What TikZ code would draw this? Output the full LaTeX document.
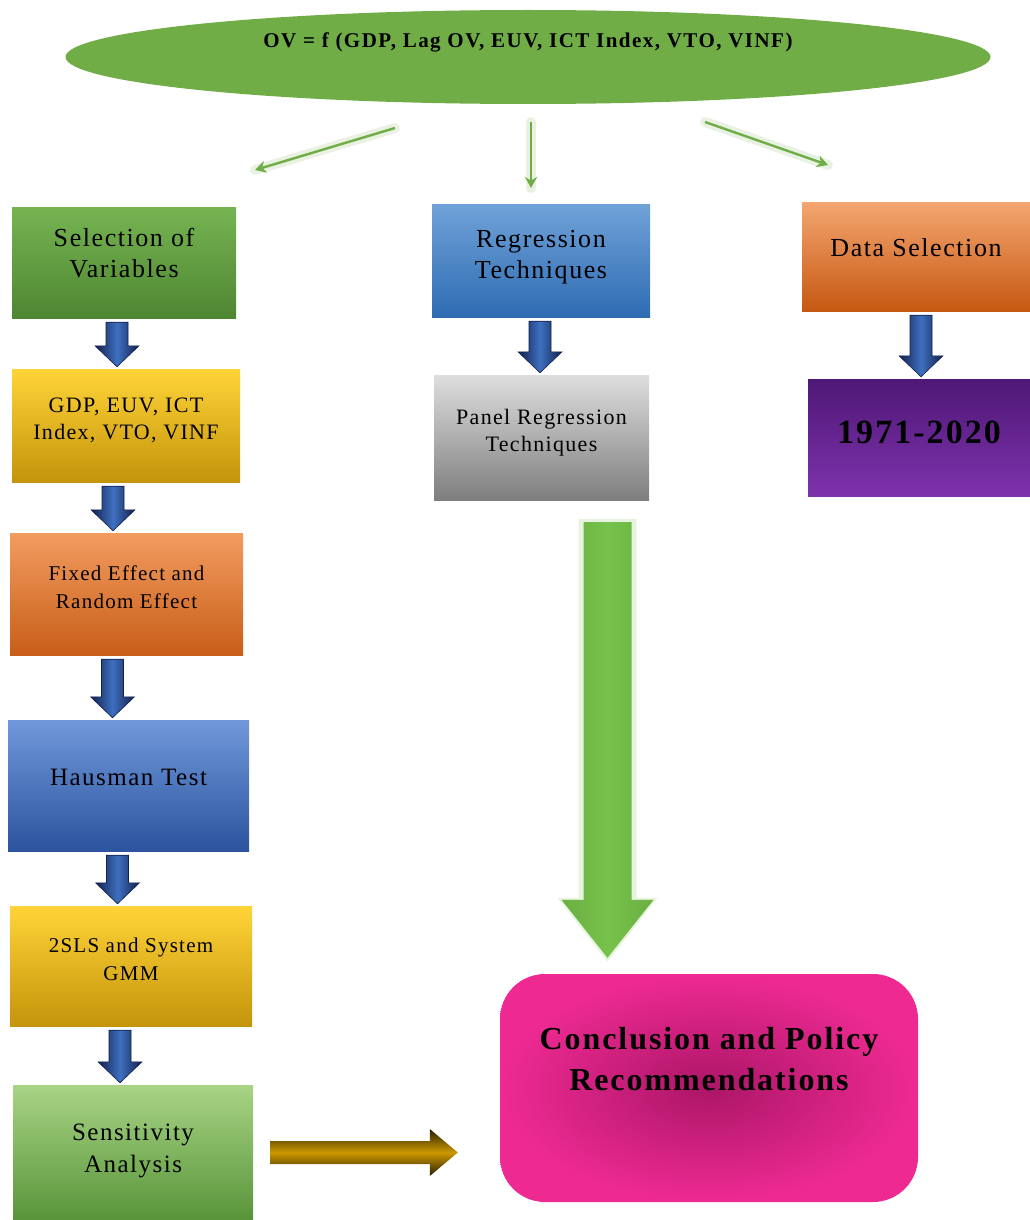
\documentclass[tikz,border=0pt]{standalone}
\usepackage{fontspec}
\setmainfont{Liberation Serif}
\newfontfamily\boxfont[LetterSpace=6]{Liberation Serif}
\newfontfamily\titlefont[LetterSpace=7]{Liberation Serif}
\usetikzlibrary{shapes.geometric,calc,arrows.meta}

\definecolor{ovgreen}{RGB}{112,173,71}
\definecolor{selT}{RGB}{118,180,82}
\definecolor{selB}{RGB}{78,134,50}
\definecolor{regT}{RGB}{112,162,216}
\definecolor{regB}{RGB}{46,108,178}
\definecolor{datT}{RGB}{244,166,112}
\definecolor{datB}{RGB}{198,88,18}
\definecolor{ylwT}{RGB}{255,212,56}
\definecolor{ylwB}{RGB}{196,148,10}
\definecolor{panT}{RGB}{222,222,222}
\definecolor{panB}{RGB}{126,126,126}
\definecolor{yrsT}{RGB}{78,24,118}
\definecolor{yrsB}{RGB}{126,50,172}
\definecolor{fixT}{RGB}{242,156,96}
\definecolor{fixB}{RGB}{200,94,24}
\definecolor{hauT}{RGB}{112,152,218}
\definecolor{hauB}{RGB}{44,84,158}
\definecolor{senT}{RGB}{168,212,132}
\definecolor{senB}{RGB}{88,148,58}
\definecolor{conOut}{RGB}{238,42,146}
\definecolor{conIn}{RGB}{172,22,104}
\definecolor{navyblk}{RGB}{18,32,76}
\definecolor{blueblk}{RGB}{62,112,192}
\definecolor{bigarrow}{RGB}{118,194,74}
\definecolor{goldmid}{RGB}{204,152,0}
\definecolor{golddark}{RGB}{40,30,0}

\tikzset{
  shadedbox/.style 2 args={rectangle, inner sep=0pt, align=center,
    top color=#1, bottom color=#2, draw=none, font=\boxfont},
  blkarrow/.style={left color=navyblk, right color=navyblk,
    middle color=blueblk, draw=navyblk, line width=0.6pt},
  glowline/.style={line width=10pt, ovgreen!45, opacity=0.35, line cap=round},
  thinarrow/.style={line width=2.4pt, ovgreen, -{Stealth[length=11pt,width=12pt]}},
}

% text set a little above the middle of its box
\newcommand{\lift}[2][0pt]{\raisebox{#1}[0pt][0pt]{\begin{tabular}{@{}c@{}}#2\end{tabular}}}

% blue block arrow from node #2 down to node #3, shifted by #1
\newcommand{\downblk}[3][0]{%
  \coordinate (ba) at ($(#2.south)+(#1,4)$);
  \coordinate (bb) at ($(#3.north -| ba)+(0,-2)$);
  \path[blkarrow] ($(ba)+(-11,0)$) -- ($(ba)+(11,0)$) -- ($(bb)+(11,-21)$)
    -- ($(bb)+(22,-21)$) -- (bb) -- ($(bb)+(-22,-21)$) -- ($(bb)+(-11,-21)$) -- cycle;
}

\begin{document}
\begin{tikzpicture}[x=1pt, y=-1pt]
  \useasboundingbox (0,0) rectangle (1030,1220);

  % model equation
  \node[ellipse, fill=ovgreen, minimum width=925pt, minimum height=94pt, inner sep=0pt,
        font=\titlefont\bfseries\fontsize{21}{25}\selectfont] (ov) at (528,57)
        {\raisebox{9pt}[0pt][0pt]{OV = f (GDP, Lag OV, EUV, ICT Index, VTO, VINF)}};

  % left column
  \node[shadedbox={selT}{selB}, minimum width=224pt, minimum height=111pt,
        font=\boxfont\fontsize{26}{31}\selectfont] (sel) at (124,262.5) {\lift{Selection of\\Variables}};
  \node[shadedbox={ylwT}{ylwB}, minimum width=228pt, minimum height=113pt,
        font=\boxfont\fontsize{22}{27}\selectfont] (gdp) at (126,425.5) {\lift{GDP, EUV, ICT\\Index, VTO, VINF}};
  \node[shadedbox={fixT}{fixB}, minimum width=233pt, minimum height=122pt,
        font=\boxfont\fontsize{21}{28}\selectfont] (fix) at (126.5,594) {\lift{Fixed Effect and\\Random Effect}};
  \node[shadedbox={hauT}{hauB}, minimum width=241pt, minimum height=131pt,
        font=\boxfont\fontsize{25}{30}\selectfont] (hau) at (128.5,785.5) {\lift{Hausman Test}};
  \node[shadedbox={ylwT}{ylwB}, minimum width=242pt, minimum height=120pt,
        font=\boxfont\fontsize{21}{28}\selectfont] (sls) at (131,966) {\lift{2SLS and System\\GMM}};
  \node[shadedbox={senT}{senB}, minimum width=240pt, minimum height=135pt,
        font=\boxfont\fontsize{25}{32}\selectfont] (sen) at (133,1152.5) {\lift[-4pt]{Sensitivity\\Analysis}};

  % middle column
  \node[shadedbox={regT}{regB}, minimum width=218pt, minimum height=113pt,
        font=\boxfont\fontsize{26}{31}\selectfont] (reg) at (541,260.5) {\lift[-3pt]{Regression\\Techniques}};
  \node[shadedbox={panT}{panB}, minimum width=215pt, minimum height=125pt,
        font=\boxfont\fontsize{22}{27}\selectfont] (pan) at (541.5,437.5) {\lift{Panel Regression\\Techniques}};

  % right column
  \node[shadedbox={datT}{datB}, minimum width=228pt, minimum height=109pt,
        font=\boxfont\fontsize{26}{31}\selectfont] (dat) at (916,256.5) {\lift{Data Selection}};
  \node[shadedbox={yrsT}{yrsB}, minimum width=222pt, minimum height=117pt,
        font=\boxfont\bfseries\fontsize{34}{40}\selectfont] (yrs) at (919,437.5) {\lift[-4pt]{1971-2020}};

  % final box
  \node[rectangle, rounded corners=45pt, inner color=conIn, outer color=conOut,
        minimum width=418pt, minimum height=228pt, inner sep=0pt,
        font=\boxfont\bfseries\fontsize{32}{41}\selectfont] (con) at (709,1088)
        {\lift[20pt]{Conclusion and Policy\\Recommendations}};

  % thin arrows out of the equation
  \coordinate (ovl) at (395,128);  \coordinate (sell) at (255,170);
  \coordinate (ovm) at (531,122);  \coordinate (regm) at (531,188);
  \coordinate (ovr) at (705,122);  \coordinate (datr) at (828,165);
  \foreach \a/\b in {ovl/sell, ovm/regm, ovr/datr} {
    \draw[glowline] (\a) -- (\b);
    \draw[thinarrow] (\a) -- (\b);
  }

  % blue block arrows
  \downblk[-7]{sel}{gdp}
  \downblk[-13]{gdp}{fix}
  \downblk[-14]{fix}{hau}
  \downblk[-11]{hau}{sls}
  \downblk[-11]{sls}{sen}
  \downblk[-1]{reg}{pan}
  \downblk[5]{dat}{yrs}

  % big green arrow to the conclusion
  \coordinate (gt) at ($(pan.south)+(66,22)$);
  \coordinate (gb) at ($(con.north -| gt)+(0,-16)$);
  \path[fill=bigarrow!40, opacity=0.45] ($(gt)+(-29,-3)$) -- ($(gt)+(29,-3)$) -- ($(gb)+(29,-60)$)
    -- ($(gb)+(50,-60)$) -- ($(gb)+(0,4)$) -- ($(gb)+(-50,-60)$) -- ($(gb)+(-29,-60)$) -- cycle;
  \path[left color=bigarrow!90!black, right color=bigarrow!90!black, middle color=bigarrow]
    ($(gt)+(-24,0)$) -- ($(gt)+(24,0)$) -- ($(gb)+(24,-58)$) -- ($(gb)+(46,-58)$)
    -- (gb) -- ($(gb)+(-46,-58)$) -- ($(gb)+(-24,-58)$) -- cycle;

  % gold arrow from sensitivity analysis
  \coordinate (ya) at ($(sen.east)+(17,0)$);
  \coordinate (yb) at ($(ya -| con.west)+(-42,0)$);
  \path[top color=golddark, bottom color=golddark, middle color=goldmid]
    ($(ya)+(0,-11.5)$) -- ($(yb)+(-28,-11.5)$) -- ($(yb)+(-28,-23.5)$) -- (yb)
    -- ($(yb)+(-28,23.5)$) -- ($(yb)+(-28,11.5)$) -- ($(ya)+(0,11.5)$) -- cycle;
\end{tikzpicture}
\end{document}
